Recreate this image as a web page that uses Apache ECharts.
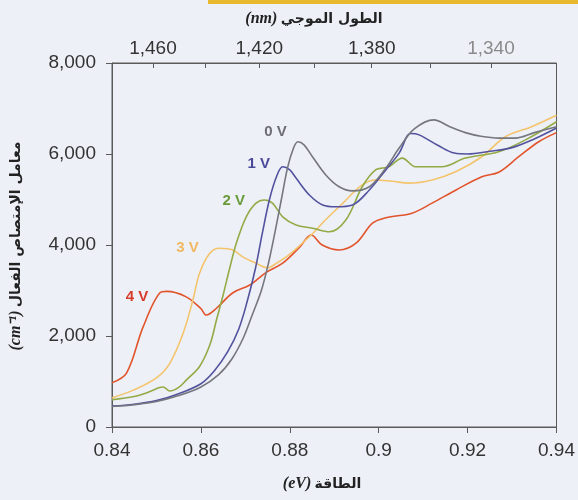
<!DOCTYPE html>
<html>
<head>
<meta charset="utf-8">
<script src="https://cdn.jsdelivr.net/npm/echarts@6/dist/echarts.min.js"></script>
<style>
  html, body { margin: 0; padding: 0; background: #edf0f7; }
  #chart { width: 578px; height: 500px; }
</style>
</head>
<body>
<div id="chart"></div>
<script>
// Photon energy (eV) vs effective absorption coefficient (cm^-1) at several bias voltages
const energy0V = [0.840, 0.845, 0.850, 0.855, 0.860, 0.864, 0.867, 0.8695, 0.8715, 0.8736, 0.8752, 0.8767, 0.8781, 0.8795, 0.8808, 0.8818, 0.8832, 0.8851, 0.8881, 0.8911, 0.8941, 0.8979, 0.9016, 0.9046, 0.9080, 0.9124, 0.9160, 0.9195, 0.9230, 0.9270, 0.9307, 0.9350, 0.9400];
const absorb0V = [450, 490, 560, 690, 880, 1150, 1500, 1950, 2450, 3000, 3600, 4300, 5000, 5700, 6120, 6270, 6200, 5940, 5540, 5280, 5190, 5280, 5690, 6130, 6550, 6750, 6600, 6470, 6390, 6350, 6350, 6470, 6600];

const energy1V = [0.840, 0.845, 0.850, 0.855, 0.860, 0.863, 0.866, 0.8685, 0.8705, 0.8723, 0.8738, 0.8754, 0.8770, 0.8784, 0.8800, 0.8814, 0.8844, 0.8874, 0.8904, 0.8941, 0.8979, 0.9016, 0.9046, 0.9072, 0.9091, 0.9135, 0.9170, 0.9200, 0.9250, 0.9300, 0.9350, 0.9400];
const absorb1V = [460, 500, 580, 730, 950, 1230, 1650, 2150, 2790, 3500, 4250, 4990, 5500, 5720, 5650, 5470, 5100, 4880, 4840, 4880, 5210, 5650, 6020, 6450, 6420, 6180, 6020, 6000, 6060, 6140, 6330, 6570];

const energy2V = [0.840, 0.845, 0.848, 0.8505, 0.8515, 0.853, 0.855, 0.8567, 0.8597, 0.862, 0.8635, 0.865, 0.8665, 0.868, 0.8702, 0.8724, 0.8743, 0.8761, 0.8784, 0.8814, 0.8851, 0.8889, 0.8926, 0.8963, 0.8993, 0.9023, 0.9053, 0.9083, 0.9142, 0.9195, 0.9270, 0.9330, 0.9400];
const absorb2V = [600, 670, 760, 860, 880, 790, 870, 1030, 1330, 1800, 2350, 2900, 3500, 4050, 4620, 4920, 4990, 4920, 4620, 4440, 4370, 4290, 4550, 5280, 5650, 5720, 5910, 5720, 5720, 5910, 6050, 6310, 6710];

const energy3V = [0.840, 0.8448, 0.850, 0.853, 0.856, 0.8582, 0.8597, 0.862, 0.8642, 0.8672, 0.8694, 0.8724, 0.875, 0.877, 0.880, 0.8848, 0.888, 0.8911, 0.8963, 0.8993, 0.9030, 0.9068, 0.9120, 0.9173, 0.9232, 0.9285, 0.9344, 0.9400];
const absorb3V = [640, 810, 1080, 1400, 2060, 2790, 3380, 3820, 3930, 3890, 3740, 3600, 3500, 3600, 3800, 4220, 4550, 4840, 5320, 5430, 5400, 5360, 5430, 5610, 5940, 6380, 6600, 6850];

const energy4V = [0.840, 0.8433, 0.847, 0.8508, 0.8523, 0.8567, 0.860, 0.8612, 0.8635, 0.8672, 0.871, 0.8747, 0.8784, 0.8822, 0.8848, 0.8873, 0.8911, 0.8949, 0.8986, 0.9016, 0.9075, 0.912, 0.9174, 0.9232, 0.927, 0.9315, 0.936, 0.940];
const absorb4V = [970, 1190, 2200, 2950, 2980, 2860, 2600, 2460, 2610, 2950, 3120, 3400, 3600, 3950, 4220, 4000, 3890, 4040, 4480, 4600, 4700, 4920, 5210, 5500, 5600, 5940, 6270, 6470];

const seriesNames = ['0 V', '1 V', '2 V', '3 V', '4 V'];
const energyTicks = [0.84, 0.86, 0.88, 0.90, 0.92, 0.94];
const absorbTicks = [0, 2000, 4000, 6000, 8000];
const wavelengthTicks = [1460, 1440, 1420, 1400, 1380, 1360, 1340];
const wavelengthLabels = [1460, 1420, 1380, 1340];

// where each voltage tag sits, in (eV, cm^-1)
const tagAnchors = [[0.8768, 6480], [0.8730, 5780], [0.8674, 4970], [0.8570, 3930], [0.8456, 2860]];

const HC = 1239.84; // eV·nm
const lineColors = ['#76767e', '#52529e', '#93ab47', '#f4c46d', '#e2542c'];
const tagColors = ['#6d6d75', '#4a4a98', '#6a9a3a', '#f1b862', '#d83a2c'];

const energies = [energy0V, energy1V, energy2V, energy3V, energy4V];
const absorbs = [absorb0V, absorb1V, absorb2V, absorb3V, absorb4V];

const numFont = 'Liberation Sans, Arial, sans-serif';
const arFont = 'DejaVu Sans, Noto Sans, sans-serif';

const series = seriesNames.map((name, i) => ({
  name: name,
  type: 'line',
  xAxisIndex: 0,
  yAxisIndex: 0,
  showSymbol: false,
  smooth: 0.35,
  lineStyle: { color: lineColors[i], width: 1.6 },
  data: energies[i].map((e, k) => [e, absorbs[i][k]]),
  z: 10 - i,
  markPoint: {
    symbol: 'circle',
    symbolSize: 0,
    silent: true,
    label: {
      show: true,
      position: 'inside',
      formatter: name,
      color: tagColors[i],
      fontSize: 15,
      fontWeight: 'bold',
      fontFamily: numFont
    },
    data: [{ coord: tagAnchors[i] }]
  }
}));

const titleRich = {
  i: { fontFamily: 'Liberation Serif, serif', fontStyle: 'italic', fontWeight: 'bold', fontSize: 16, fill: '#222' },
  a: { fontFamily: arFont, fontWeight: 'bold', fontSize: 14, fill: '#222' }
};

const chart = echarts.init(document.getElementById('chart'), null, { renderer: 'canvas' });
chart.setOption({
  backgroundColor: '#edf0f7',
  animation: false,
  grid: { left: 112, right: 20, top: 63, bottom: 73, show: true, borderColor: '#5a5a5a', borderWidth: 1, backgroundColor: 'transparent' },
  xAxis: [
    {
      type: 'value',
      position: 'bottom',
      min: energyTicks[0],
      max: energyTicks[energyTicks.length - 1],
      interval: 0.02,
      axisLine: { show: true, lineStyle: { color: '#5a5a5a', width: 1 } },
      axisTick: { show: true, inside: false, length: 6, lineStyle: { color: '#5a5a5a' } },
      splitLine: { show: false },
      axisLabel: {
        color: '#333', fontSize: 19, fontFamily: numFont, margin: 14,
        formatter: v => String(Math.round(v * 100) / 100)
      }
    },
    {
      type: 'value',
      position: 'top',
      min: energyTicks[0],
      max: energyTicks[energyTicks.length - 1],
      axisLine: { show: true, lineStyle: { color: '#5a5a5a', width: 1 } },
      axisTick: { show: true, inside: true, length: 5, lineStyle: { color: '#5a5a5a' },
        customValues: wavelengthTicks.map(nm => HC / nm) },
      splitLine: { show: false },
      axisLabel: {
        fontSize: 19, fontFamily: numFont, margin: 5,
        customValues: wavelengthLabels.map(nm => HC / nm),
        formatter: v => Math.round(HC / v).toLocaleString('en-US'),
        color: v => (Math.round(HC / v) === 1340 ? '#8a8a8a' : '#333')
      }
    }
  ],
  yAxis: [
    {
      type: 'value',
      min: absorbTicks[0],
      max: absorbTicks[absorbTicks.length - 1],
      interval: 2000,
      axisLine: { show: true, lineStyle: { color: '#5a5a5a', width: 1 } },
      axisTick: { show: true, inside: false, length: 6, lineStyle: { color: '#5a5a5a' } },
      splitLine: { show: false },
      axisLabel: {
        color: '#333', fontSize: 19, fontFamily: numFont, margin: 16,
        formatter: v => v.toLocaleString('en-US')
      }
    }
  ],
  graphic: [
    {
      type: 'rect', left: 208, top: 0, silent: true,
      shape: { width: 370, height: 4 },
      style: { fill: '#e8b92c' }
    },
    {
      type: 'text', x: 314, y: 19, silent: true,
      style: { text: '{i|(nm)} {a|الطول الموجي}', align: 'center', verticalAlign: 'middle', rich: titleRich }
    },
    {
      type: 'text', x: 322, y: 484, silent: true,
      style: { text: '{i|(eV)} {a|الطاقة}', align: 'center', verticalAlign: 'middle', rich: titleRich }
    },
    {
      type: 'text', x: 16, y: 246, rotation: Math.PI / 2, silent: true,
      style: { text: '{i|(cm⁻¹)} {a|معامل الإمتصاص الفعال}', align: 'center', verticalAlign: 'middle', rich: titleRich }
    }
  ],
  series: series
});
</script>
</body>
</html>
